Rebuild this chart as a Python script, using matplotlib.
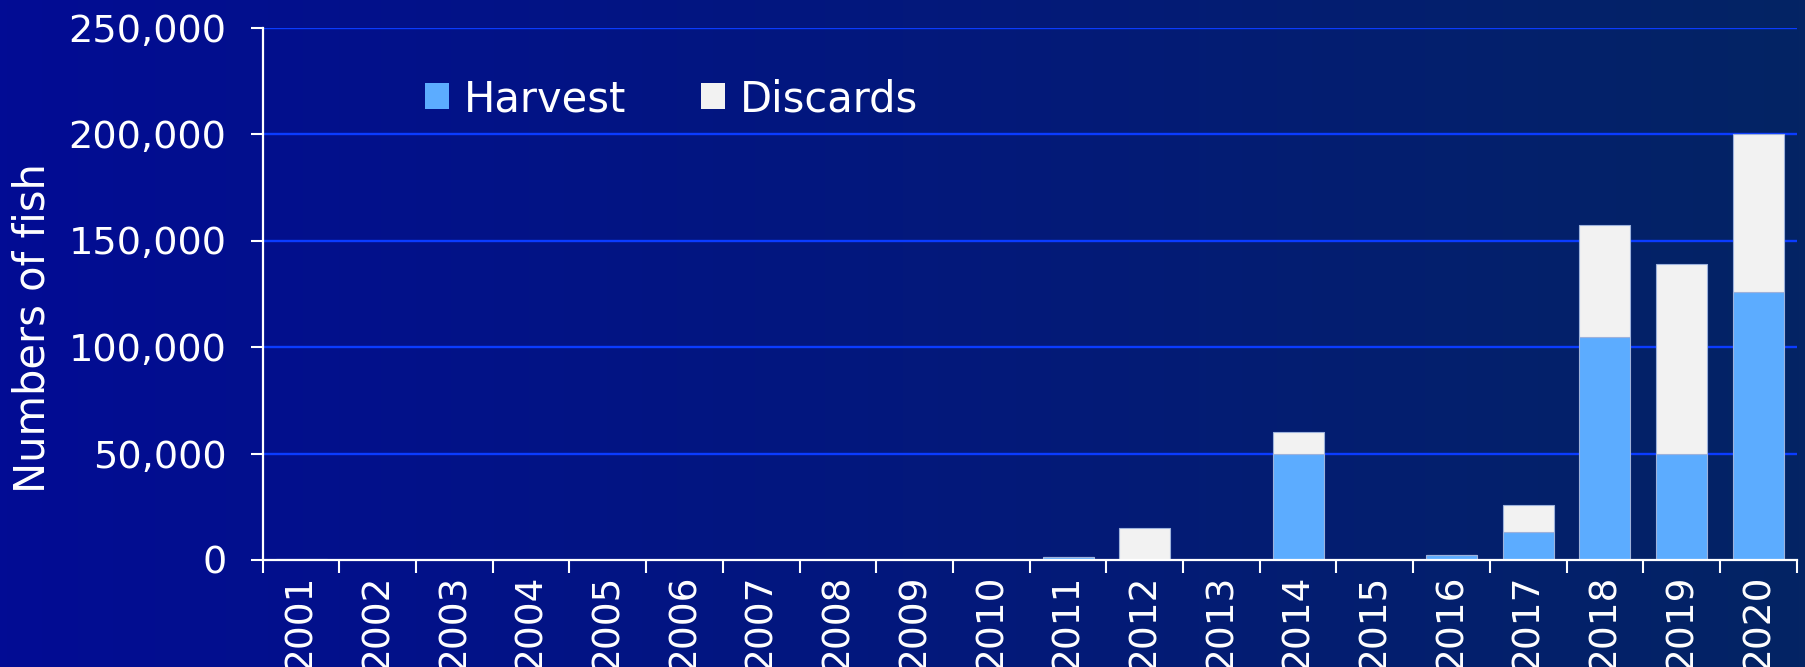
import numpy as np
import matplotlib
matplotlib.use("Agg")
import matplotlib.pyplot as plt
from matplotlib.patches import Patch
from matplotlib.ticker import FuncFormatter, FixedLocator

# values
years = [str(y) for y in range(2001, 2021)]
harvest = [0, 0, 0, 0, 0, 0, 0, 0, 0, 0,
           1300, 0, 0, 50000, 0, 2300, 13000, 104700, 50000, 125700]
discards = [400, 0, 0, 0, 0, 0, 0, 0, 0, 0,
            0, 15200, 0, 10000, 0, 0, 12700, 52600, 89100, 74100]
y_ticks = [0, 50000, 100000, 150000, 200000, 250000]

HARVEST_C = "#5cacff"
DISCARD_C = "#f2f2f2"
EDGE_C = "#9db2dc"
GRID_C = "#0b3cff"

plt.rcParams["font.family"] = ["DejaVu Sans"]

W, H = 1806, 667
fig = plt.figure(figsize=(W / 100, H / 100), dpi=100)

# horizontal background gradient, bright navy on the left to dull navy on the right
bg = fig.add_axes([0, 0, 1, 1], zorder=-10)
left = np.array([2, 12, 148]) / 255
right = np.array([4, 36, 100]) / 255
t = np.linspace(0, 1, 256)[None, :, None]
grad = left[None, None, :] * (1 - t) + right[None, None, :] * t
bg.imshow(grad, aspect="auto", extent=[0, 1, 0, 1])
bg.set_axis_off()

ax = fig.add_axes([262.7 / W, 1 - 560 / H, 1534 / W, 532.5 / H])
ax.patch.set_alpha(0)

x = np.arange(len(years))
ax.bar(x, harvest, width=0.665, color=HARVEST_C, edgecolor=EDGE_C,
       linewidth=0.8, zorder=3)
ax.bar(x, discards, width=0.665, bottom=harvest, color=DISCARD_C,
       edgecolor=EDGE_C, linewidth=0.8, zorder=3)

ax.set_xlim(-0.5, len(years) - 0.5)
ax.set_ylim(0, 250000)

ax.set_yticks(y_ticks)
ax.yaxis.set_major_formatter(FuncFormatter(lambda v, p: f"{v:,.0f}"))
for v in y_ticks[1:]:
    ax.axhline(v, color=GRID_C, linewidth=1.7, zorder=1)

# x ticks sit between the categories, labels at the centres
ax.xaxis.set_major_locator(FixedLocator(np.arange(len(years) + 1) - 0.5))
ax.xaxis.set_minor_locator(FixedLocator(x))
ax.set_xticklabels([], minor=False)
ax.set_xticklabels(years, minor=True, rotation=90)

ax.tick_params(axis="x", which="major", direction="out", length=9,
               width=1.5, color="white")
ax.tick_params(axis="x", which="minor", length=0, pad=10.5,
               labelsize=27, labelcolor="white")
ax.tick_params(axis="y", direction="out", length=9, width=1.5,
               color="white", pad=17, labelsize=27.5, labelcolor="white")

for side in ("top", "right"):
    ax.spines[side].set_visible(False)
for side in ("left", "bottom"):
    ax.spines[side].set_color("white")
    ax.spines[side].set_linewidth(1.6)
    ax.spines[side].set_zorder(4)

fig.text(32.5 / W, 1 - 328 / H, "Numbers of fish", rotation=90,
         color="white", fontsize=30, ha="center", va="center")

handles = [Patch(facecolor=HARVEST_C, edgecolor="none", label="Harvest"),
           Patch(facecolor=DISCARD_C, edgecolor="none", label="Discards")]
leg = ax.legend(handles=handles, ncol=2, frameon=False, fontsize=30,
                loc="center left", bbox_to_anchor=((425 - 262.7) / 1534, (560 - 99) / 532.5),
                borderpad=0, borderaxespad=0, handlelength=0.58,
                handleheight=0.58, handletextpad=0.35, columnspacing=1.8)
for txt in leg.get_texts():
    txt.set_color("white")

fig.savefig("out.png", dpi=100)
